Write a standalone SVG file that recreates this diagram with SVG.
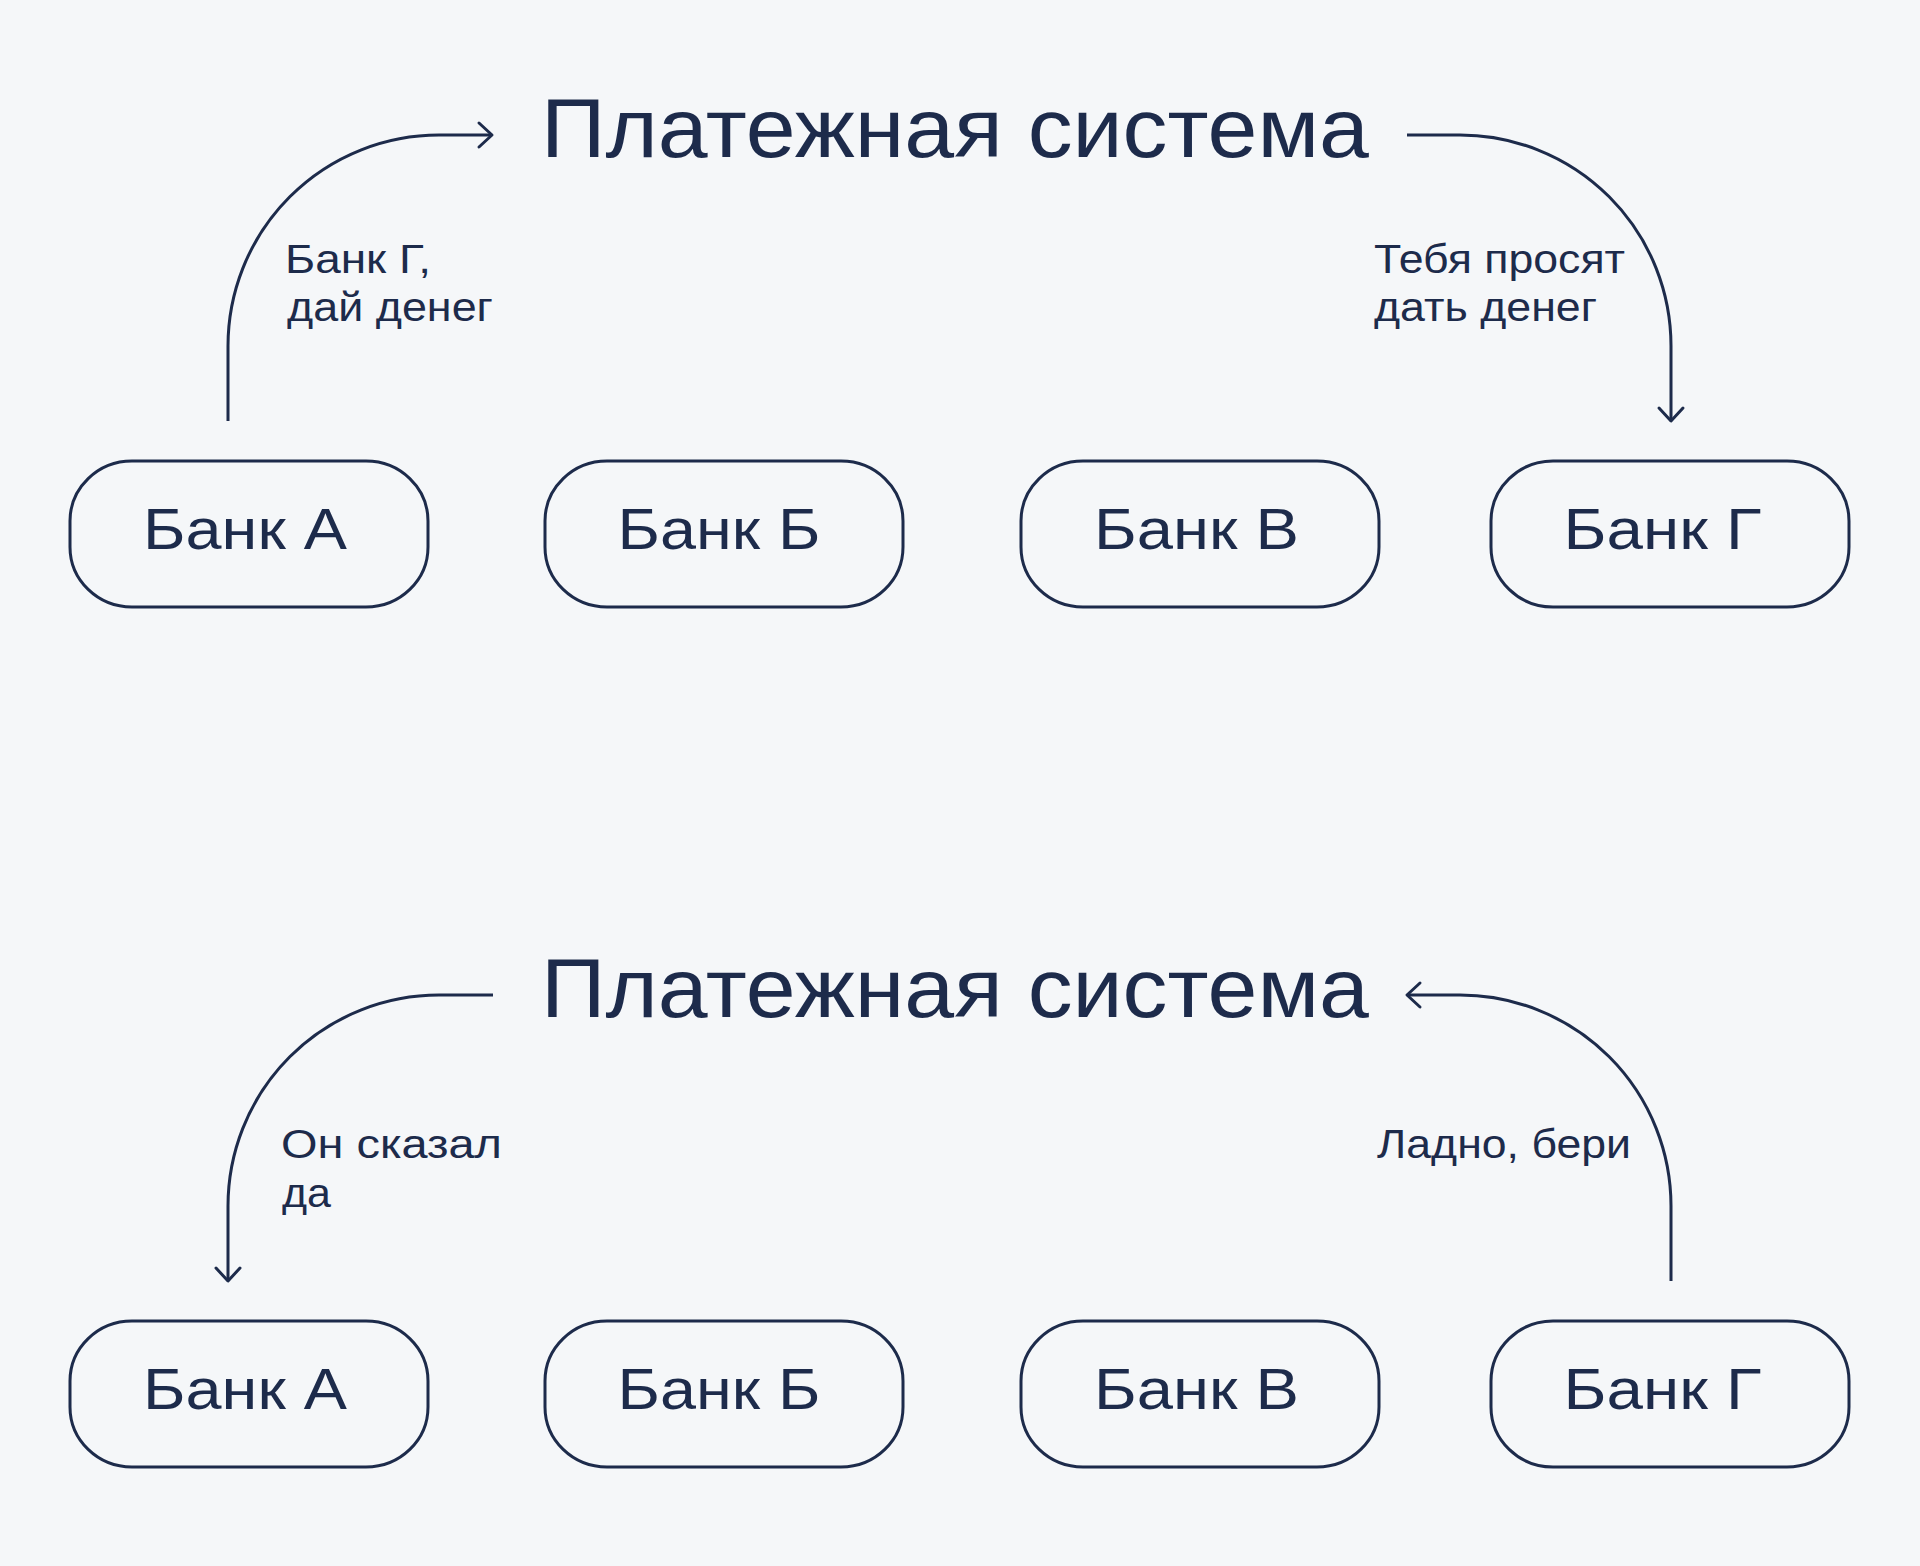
<svg xmlns="http://www.w3.org/2000/svg" width="1920" height="1566" viewBox="0 0 1920 1566">
  <defs>
    <marker id="chev" markerUnits="userSpaceOnUse" markerWidth="40" markerHeight="40" viewBox="-20 -20 40 40" refX="0" refY="0" orient="auto">
      <path d="M-13,-12 L0,0 L-13,12" fill="none" stroke="#1d2b4b" stroke-width="3" stroke-linecap="round" stroke-linejoin="round"/>
    </marker>
  </defs>
  <style>
    .bg { fill: #f5f7f9; }
    .box { fill: none; stroke: #1d2b4b; stroke-width: 3; }
    .conn { fill: none; stroke: #1d2b4b; stroke-width: 3; }
    text { font-family: "Liberation Sans", Arial, sans-serif; fill: #1d2b4b; }
    .title { font-size: 82.5px; }
    .node { font-size: 57px; }
    .lbl { font-size: 41px; }
  </style>
  <rect class="bg" x="0" y="0" width="1920" height="1566"/>

  <!-- Top section -->
  <g id="title-top">
    <text class="title" x="541" y="157" textLength="828" lengthAdjust="spacingAndGlyphs">Платежная система</text>
  </g>
  <g id="top-bank-a">
    <rect class="box" x="70" y="461" width="358" height="146" rx="62" ry="60"/>
    <text class="node" x="143" y="549" textLength="204" lengthAdjust="spacingAndGlyphs">Банк А</text>
  </g>
  <g id="top-bank-b">
    <rect class="box" x="545" y="461" width="358" height="146" rx="62" ry="60"/>
    <text class="node" x="617.5" y="549" textLength="203" lengthAdjust="spacingAndGlyphs">Банк Б</text>
  </g>
  <g id="top-bank-v">
    <rect class="box" x="1021" y="461" width="358" height="146" rx="62" ry="60"/>
    <text class="node" x="1094" y="549" textLength="205" lengthAdjust="spacingAndGlyphs">Банк В</text>
  </g>
  <g id="top-bank-g">
    <rect class="box" x="1491" y="461" width="358" height="146" rx="62" ry="60"/>
    <text class="node" x="1563.5" y="549" textLength="198" lengthAdjust="spacingAndGlyphs">Банк Г</text>
  </g>

  <!-- Bottom section -->
  <g id="title-bottom">
    <text class="title" x="541" y="1017" textLength="828" lengthAdjust="spacingAndGlyphs">Платежная система</text>
  </g>
  <g id="bottom-bank-a">
    <rect class="box" x="70" y="1321" width="358" height="146" rx="62" ry="60"/>
    <text class="node" x="143" y="1409" textLength="204" lengthAdjust="spacingAndGlyphs">Банк А</text>
  </g>
  <g id="bottom-bank-b">
    <rect class="box" x="545" y="1321" width="358" height="146" rx="62" ry="60"/>
    <text class="node" x="617.5" y="1409" textLength="203" lengthAdjust="spacingAndGlyphs">Банк Б</text>
  </g>
  <g id="bottom-bank-v">
    <rect class="box" x="1021" y="1321" width="358" height="146" rx="62" ry="60"/>
    <text class="node" x="1094" y="1409" textLength="205" lengthAdjust="spacingAndGlyphs">Банк В</text>
  </g>
  <g id="bottom-bank-g">
    <rect class="box" x="1491" y="1321" width="358" height="146" rx="62" ry="60"/>
    <text class="node" x="1563.5" y="1409" textLength="198" lengthAdjust="spacingAndGlyphs">Банк Г</text>
  </g>

  <!-- Connectors -->
  <g id="connectors">
    <path class="conn" d="M228,421 V346 A211,211 0 0 1 439,135 H492" marker-end="url(#chev)"/>
    <path class="conn" d="M1407,135 H1460 A211,211 0 0 1 1671,346 V421" marker-end="url(#chev)"/>
    <path class="conn" d="M493,995 H439 A211,211 0 0 0 228,1206 V1281" marker-end="url(#chev)"/>
    <path class="conn" d="M1671,1281 V1206 A211,211 0 0 0 1460,995 H1407" marker-end="url(#chev)"/>
  </g>

  <!-- Connector labels -->
  <g id="labels">
    <text class="lbl" x="285" y="272.5" textLength="146" lengthAdjust="spacingAndGlyphs">Банк Г,</text>
    <text class="lbl" x="287" y="321" textLength="206" lengthAdjust="spacingAndGlyphs">дай денег</text>
    <text class="lbl" x="1374" y="272.5" textLength="251" lengthAdjust="spacingAndGlyphs">Тебя просят</text>
    <text class="lbl" x="1374" y="321" textLength="223" lengthAdjust="spacingAndGlyphs">дать денег</text>
    <text class="lbl" x="281" y="1158" textLength="221" lengthAdjust="spacingAndGlyphs">Он сказал</text>
    <text class="lbl" x="282" y="1207" textLength="49" lengthAdjust="spacingAndGlyphs">да</text>
    <text class="lbl" x="1377" y="1158" textLength="254" lengthAdjust="spacingAndGlyphs">Ладно, бери</text>
  </g>
</svg>
